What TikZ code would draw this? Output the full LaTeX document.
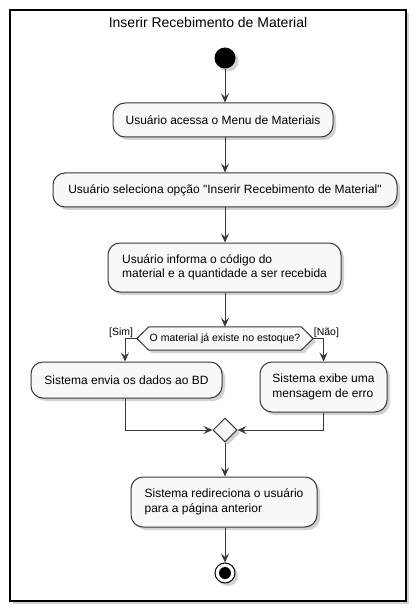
\documentclass[tikz,border=0pt]{standalone}
\usepackage{fontspec}
\setmainfont{Liberation Sans}
\usetikzlibrary{arrows.meta,shapes.geometric,shadows}
\definecolor{umlline}{HTML}{383838}
\definecolor{umlfill}{HTML}{F8F8F8}
\def\actfont{\fontsize{12}{14.5}\selectfont}
\def\smallfont{\fontsize{10.5}{12}\selectfont}

\begin{document}
\begin{tikzpicture}[x=1pt,y=-1pt,
	umlshadow/.style={drop shadow={opacity=0.35,shadow xshift=3pt,shadow yshift=-3pt}},
	act/.style={draw=umlline,fill=umlfill,line width=1pt,rounded corners=12pt,umlshadow,align=left,inner sep=0pt,font=\actfont},
	flow/.style={draw=umlline,line width=1pt,-{Stealth[length=9pt,width=8pt,inset=3.5pt]}},
	plain/.style={draw=umlline,line width=1pt}]
			%%%%% START %%%%%
			
			\useasboundingbox (0, 0) rectangle (416, 612);
			
			\draw[line width=1.4pt, fill=white, umlshadow] (10, 10) rectangle (406, 601);
			\node[font=\fontsize{14}{16}\selectfont] (title) at (208, 22) {Inserir Recebimento de Material};
			
			\node[circle, fill=black, minimum size=21pt, inner sep=0pt, umlshadow] (start) at (225, 58) {};
			
			\node[act, minimum width=220pt, minimum height=34pt] (menu) at (223, 120) {Usuário acessa o Menu de Materiais};
			\node[act, minimum width=344pt, minimum height=34pt] (opcao) at (225, 190) {Usuário seleciona opção \textquotedbl Inserir Recebimento de Material\textquotedbl};
			\node[act, minimum width=233pt, minimum height=49pt] (informa) at (224.5, 267.5) {Usuário informa o código do\\material e a quantidade a ser recebida};
			
			\node[minimum width=176pt, minimum height=23pt, inner sep=0pt, font=\smallfont] (dec) at (225, 338.5) {};
			\path[plain, fill=umlfill, umlshadow] (dec.west) -- ([xshift=12pt]dec.north west) -- ([xshift=-12pt]dec.north east) -- (dec.east) -- ([xshift=-12pt]dec.south east) -- ([xshift=12pt]dec.south west) -- cycle;
			\node[font=\smallfont] (dectext) at (dec.center) {O material já existe no estoque?};
			\node[font=\smallfont, anchor=south east, inner sep=0.5pt] (sim) at ([xshift=-3pt]dec.west) {[Sim]};
			\node[font=\smallfont, anchor=south west, inner sep=0.5pt] (nao) at ([xshift=0pt]dec.east) {[Não]};
			
			\node[act, minimum width=191pt, minimum height=36pt] (envia) at (126.5, 380) {Sistema envia os dados ao BD};
			\node[act, minimum width=127pt, minimum height=50pt] (erro) at (323.5, 387) {Sistema exibe uma\\mensagem de erro};
			
			\node[diamond, plain, fill=umlfill, minimum size=24pt, inner sep=0pt, umlshadow] (merge) at (225, 430) {};
			
			\node[act, minimum width=186pt, minimum height=50pt] (redir) at (224, 502) {Sistema redireciona o usuário\\para a página anterior};
			
			\node[circle, draw=black, line width=1pt, fill=white, minimum size=20pt, inner sep=0pt, umlshadow] (stop) at (225, 573) {};
			\node[circle, fill=black, minimum size=12pt, inner sep=0pt] (stopdot) at (stop.center) {};
			
			\draw[flow] (start) -- (menu.north -| start);
			\draw[flow] (menu.south -| start) -- (opcao.north -| start);
			\draw[flow] (opcao.south -| start) -- (informa.north -| start);
			\draw[flow] (informa.south -| start) -- (dec.north);
			\draw[flow] (dec.west) -| (envia.north -| 125, 0);
			\draw[flow] (dec.east) -| (erro.north);
			\draw[flow] (envia.south -| 125, 0) |- (merge.west);
			\draw[flow] (erro.south) |- (merge.east);
			\draw[flow] (merge) -- (redir.north -| merge.south);
			\draw[flow] (redir.south -| stop.north) -- (stop.north);
			
			%%%%% END %%%%%
\end{tikzpicture}
\end{document}
